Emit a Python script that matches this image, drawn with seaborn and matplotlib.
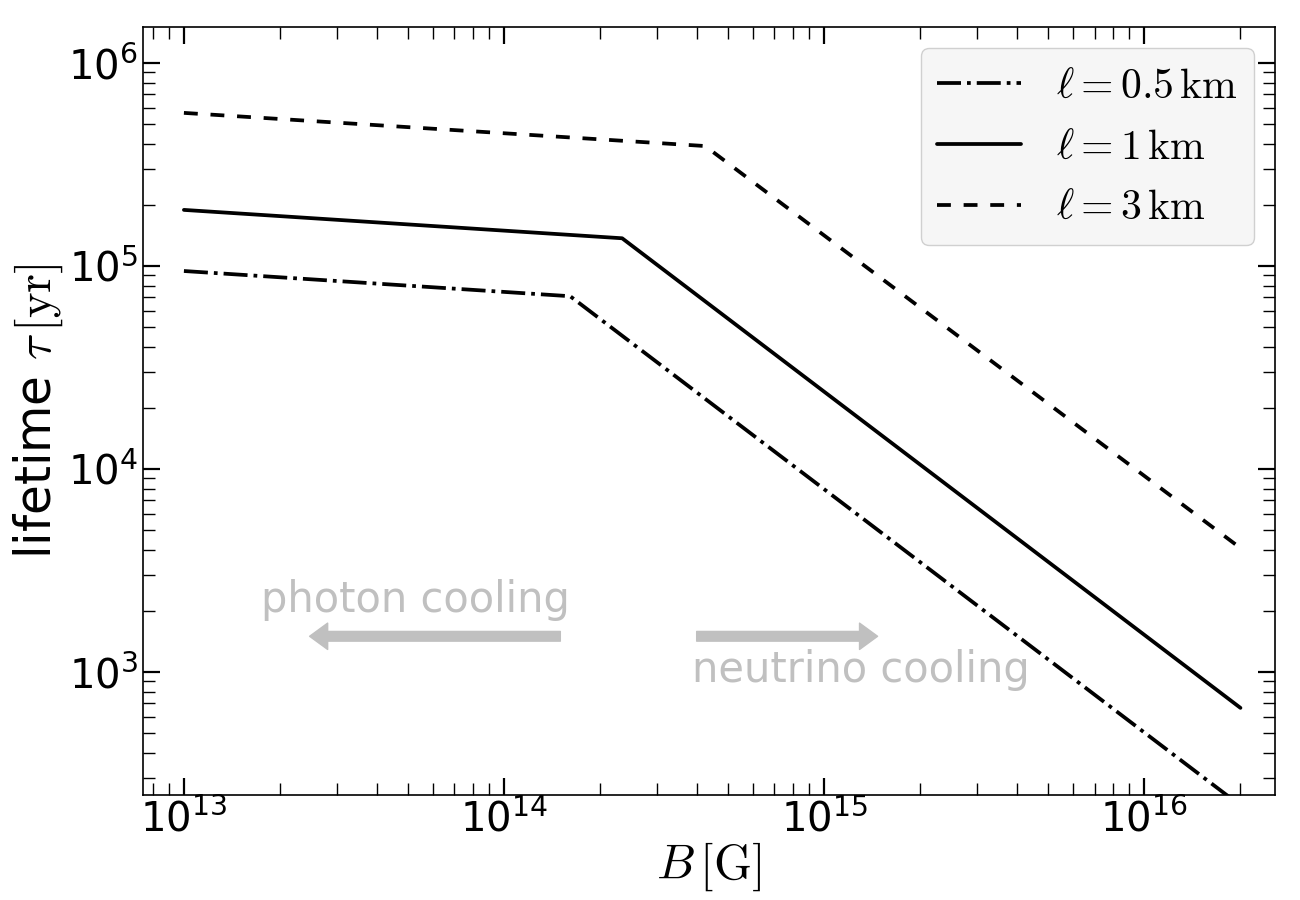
import numpy as np
import pandas as pd
import matplotlib
matplotlib.use("Agg")
import matplotlib.pyplot as plt
from matplotlib.font_manager import FontProperties
import seaborn as sns

sns.set_style("ticks")
plt.rcParams['font.family'] = ['DejaVu Sans']
plt.rcParams['mathtext.fontset'] = 'dejavusans'
for key in ['text.color', 'axes.labelcolor', 'xtick.color', 'ytick.color', 'axes.edgecolor']:
    plt.rcParams[key] = 'black'

# ----------------------------------------
# Data (B in G, tau in yr)
# ----------------------------------------
B_05 = [1e13, 1.61e14, 2e16]
tau_05 = [9.45e4, 7.1e4, 220]

B_1 = [1e13, 2.34e14, 2e16]
tau_1 = [1.89e5, 1.37e5, 666]

B_3 = [1e13, 4.25e14, 2e16]
tau_3 = [5.68e5, 3.9e5, 4080]

labels = [r'$\ell = 0.5\,\mathrm{km}$', r'$\ell = 1\,\mathrm{km}$', r'$\ell = 3\,\mathrm{km}$']
styles = ['-.', '-', (0, (3.7, 3.4))]

df = pd.concat([
    pd.DataFrame({'B': B_05, 'tau': tau_05, 'label': labels[0]}),
    pd.DataFrame({'B': B_1, 'tau': tau_1, 'label': labels[1]}),
    pd.DataFrame({'B': B_3, 'tau': tau_3, 'label': labels[2]}),
])

fig = plt.figure(figsize=(13, 9), dpi=100)
ax = fig.add_axes([0.11, 0.1167, 0.871, 0.853])

for lab, ls in zip(labels, styles):
    sns.lineplot(data=df[df['label'] == lab], x='B', y='tau', ax=ax,
                 color='black', linestyle=ls, linewidth=2.7, label=lab)

ax.set_xscale('log')
ax.set_yscale('log')
ax.set_xlim(7.45e12, 2.57e16)
ax.set_ylim(248, 1.5e6)

ax.tick_params(which='both', direction='in', top=True, right=True, labelsize=29)
ax.tick_params(which='major', length=12, width=1.6)
ax.tick_params(which='minor', length=8.5, width=1.0)
for sp in ax.spines.values():
    sp.set_linewidth(1.2)

ax.set_xlabel(r'$B\,[\mathrm{G}]$', fontsize=35, math_fontfamily='cm', labelpad=0)
ax.set_ylabel(r'lifetime $\tau\,[\mathrm{yr}]$', fontsize=35, math_fontfamily='cm', labelpad=2)

# cooling regime annotations
grey = '#c0c0c0'
astyle = 'simple,head_width=19,head_length=13,tail_width=7'
ax.annotate('', xy=(2.47e13, 1500), xytext=(1.5e14, 1500),
            arrowprops=dict(arrowstyle=astyle, color=grey, mutation_scale=1,
                            shrinkA=0, shrinkB=0))
ax.annotate('', xy=(1.47e15, 1500), xytext=(4e14, 1500),
            arrowprops=dict(arrowstyle=astyle, color=grey, mutation_scale=1,
                            shrinkA=0, shrinkB=0))
ax.text(5.3e13, 2265, 'photon cooling', color=grey, fontsize=30, ha='center', va='center')
ax.text(1.3e15, 1020, 'neutrino cooling', color=grey, fontsize=30, ha='center', va='center')

leg = ax.legend(loc='upper right', prop=FontProperties(size=30, math_fontfamily='cm'),
                frameon=True, fancybox=True, facecolor='#f6f6f6', edgecolor='#d0d0d0',
                framealpha=1.0, handlelength=2.0, borderpad=0.4, labelspacing=0.45,
                handletextpad=0.85, borderaxespad=0.5)

fig.savefig('out.png', dpi=100)
